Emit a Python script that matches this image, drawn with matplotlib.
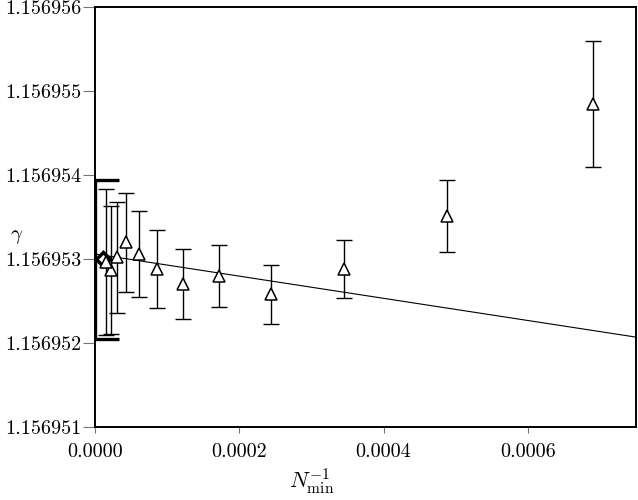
import numpy as np
import matplotlib
matplotlib.use("Agg")
import matplotlib.pyplot as plt
from matplotlib.ticker import FormatStrFormatter, FixedLocator

plt.rcParams['font.family'] = ['cmr10', 'DejaVu Serif']
plt.rcParams['mathtext.fontset'] = 'cm'
plt.rcParams['axes.formatter.use_mathtext'] = True

# data: inverse N_min values, gamma estimates and errors
inv_nmin = [0.000690, 0.000488, 0.000345, 0.000244, 0.0001725, 0.000122,
            0.0000863, 0.0000610, 0.0000431, 0.0000305, 0.0000216, 0.0000153]
gamma = [1.15695484, 1.15695351, 1.15695288, 1.15695258, 1.15695280, 1.15695270,
         1.15695288, 1.15695306, 1.15695320, 1.15695302, 1.15695287, 1.15695296]
gamma_err = [0.75e-6, 0.426e-6, 0.345e-6, 0.351e-6, 0.371e-6, 0.42e-6,
             0.463e-6, 0.516e-6, 0.59e-6, 0.66e-6, 0.757e-6, 0.87e-6]

# extrapolated value
extrap_x = [0.0]
extrap_y = [1.15695299]
extrap_err = [0.948e-6]
diamond_x = [0.0000105]
diamond_y = [1.15695300]

# fit line
fit_intercept = 1.15695306
fit_slope = -1.32e-3

xticks = [0.0, 0.0002, 0.0004, 0.0006]
yticks = [1.156951, 1.156952, 1.156953, 1.156954, 1.156955, 1.156956]

fig = plt.figure(figsize=(6.38, 5.00), dpi=100)
ax = fig.add_axes([95/638, 1-427/500, 541/638, 420/500])

xl = np.array([0.0, 0.00075])
ax.plot(xl, fit_intercept + fit_slope*xl, color='black', lw=0.8, zorder=2)

ax.errorbar(extrap_x, extrap_y, yerr=extrap_err, fmt='none', ecolor='black',
            elinewidth=2.4, capsize=17.5, capthick=2.4, zorder=3)
ax.plot(diamond_x, diamond_y, marker='D', ms=7.2, mfc='white', mec='black',
        mew=2.5, ls='none', zorder=3)

ax.errorbar(inv_nmin, gamma, yerr=gamma_err, fmt='none', ecolor='black',
            elinewidth=1.0, capsize=5.6, capthick=1.0, zorder=4)
ax.plot(inv_nmin, gamma, marker='^', ms=8.5, mfc='white', mec='black',
        mew=1.1, ls='none', zorder=5)

ax.set_xlim(0, 0.00075)
ax.set_ylim(1.156951, 1.156956)
ax.xaxis.set_major_locator(FixedLocator(xticks))
ax.yaxis.set_major_locator(FixedLocator(yticks))
ax.xaxis.set_major_formatter(FormatStrFormatter('%.4f'))
ax.yaxis.set_major_formatter(FormatStrFormatter('%.6f'))

for s in ax.spines.values():
    s.set_linewidth(1.4)
ax.tick_params(axis='y', direction='out', length=9, width=0.8, color='0.45',
               pad=1, labelsize=14.5)
ax.tick_params(axis='x', direction='out', length=4.5, width=0.8, color='0.45',
               pad=7, labelsize=14.5)

ax.set_ylabel(r'$\gamma$', rotation=0, fontsize=15)
ax.yaxis.set_label_coords(-0.144, 0.43)
ax.set_xlabel(r'$N_{\min}^{-1}$', fontsize=16)
ax.xaxis.set_label_coords(0.401, -0.093)

fig.savefig('out.png', dpi=100)
